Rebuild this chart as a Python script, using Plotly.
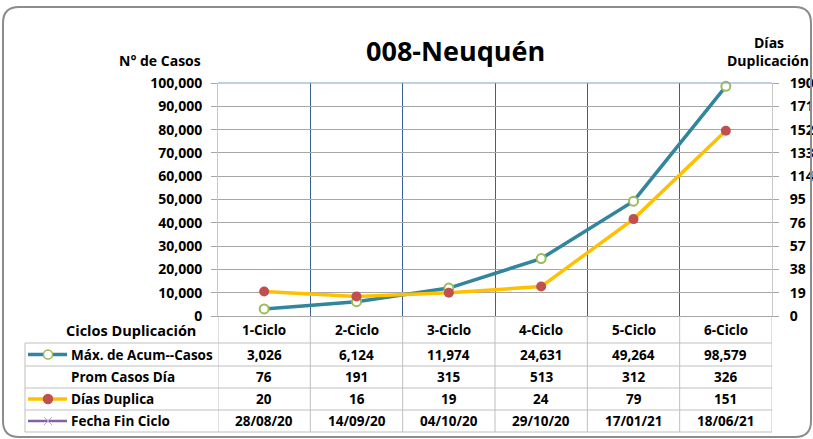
import plotly.graph_objects as go

# ---------------- data ----------------
ciclos = ["1-Ciclo", "2-Ciclo", "3-Ciclo", "4-Ciclo", "5-Ciclo", "6-Ciclo"]
max_acum_casos = [3026, 6124, 11974, 24631, 49264, 98579]
prom_casos_dia = [76, 191, 315, 513, 312, 326]
dias_duplica = [20, 16, 19, 24, 79, 151]
fecha_fin_ciclo = ["28/08/20", "14/09/20", "04/10/20", "29/10/20", "17/01/21", "18/06/21"]
left_ticks = list(range(0, 100001, 10000))
right_ticks = [0, 19, 38, 57, 76, 95, 114, 133, 152, 171, 190]

title = "008-Neuquén"
row_labels = ["Máx. de Acum--Casos", "Prom Casos Día", "Días Duplica", "Fecha Fin Ciclo"]

# ---------------- geometry (pixels) ----------------
W, H = 813, 439
L, R, T, B = 218, 772, 83, 316
PW, PH = R - L, B - T


def px(x):
    return (x - L) / PW


def py(y):
    return (B - y) / PH


FONT = "Open Sans"
TEAL = "#31859C"
GOLD = "#FFC000"
RED = "#C0504D"
GREEN = "#9BBB59"
PURPLE = "#8064A2"
GRID = "#A6A6A6"
BLUE = "#3A5F95"
TBL = "#BFBFBF"

fig = go.Figure()
fig.add_trace(go.Scatter(
    x=ciclos, y=max_acum_casos, mode="lines+markers", name=row_labels[0],
    line=dict(color=TEAL, width=3.5),
    marker=dict(size=9, color="white", line=dict(color=GREEN, width=2)),
    yaxis="y", cliponaxis=False, showlegend=False))
fig.add_trace(go.Scatter(
    x=ciclos, y=dias_duplica, mode="lines+markers", name=row_labels[2],
    line=dict(color=GOLD, width=3.5),
    marker=dict(size=10, color=RED),
    yaxis="y2", cliponaxis=False, showlegend=False))

shapes = []
annotations = []

annotations.append(dict(text=title, x=px(455), y=py(50), xref="paper", yref="paper",
                        showarrow=False, xanchor="center", yanchor="middle",
                        font=dict(family=FONT, size=27, color="black", weight="bold")))
annotations.append(dict(text="N° de Casos", x=px(203), y=py(60), xref="paper", yref="paper",
                        showarrow=False, xanchor="right", yanchor="middle",
                        font=dict(family=FONT, size=14, color="black", weight="bold")))
annotations.append(dict(text="Días", x=px(769), y=py(42), xref="paper", yref="paper",
                        showarrow=False, xanchor="center", yanchor="middle",
                        font=dict(family=FONT, size=14, color="black", weight="bold")))
annotations.append(dict(text="Duplicación", x=px(811), y=py(60), xref="paper", yref="paper",
                        showarrow=False, xanchor="right", yanchor="middle",
                        font=dict(family=FONT, size=14, color="black", weight="bold")))

shapes.append(dict(type="line", xref="paper", yref="paper", x0=0, x1=1, y0=1, y1=1,
                   line=dict(color="#7FA0C8", width=1)))

# ---------------- table ----------------
row_lines = [343, 366, 388, 410, 432]
row_centers = [354.5, 377, 399, 421]
header_y = 330

for yl in row_lines:
    shapes.append(dict(type="line", xref="paper", yref="paper", x0=px(25), x1=px(R),
                       y0=py(yl), y1=py(yl), line=dict(color=TBL, width=1)))
shapes.append(dict(type="line", xref="paper", yref="paper", x0=px(25), x1=px(25),
                   y0=py(343), y1=py(432), line=dict(color=TBL, width=1)))
for i in range(len(ciclos) + 1):
    shapes.append(dict(type="line", xref="x", yref="paper", x0=i - 0.5, x1=i - 0.5,
                       y0=py(B), y1=py(432), line=dict(color=TBL, width=1)))

tfont = dict(family=FONT, size=13.5, color="black", weight="bold")
annotations.append(dict(text="Ciclos Duplicación", x=px(131), y=py(header_y), xref="paper",
                        yref="paper", showarrow=False, xanchor="center", yanchor="middle",
                        font=dict(family=FONT, size=14.5, color="black", weight="bold")))
for c in ciclos:
    annotations.append(dict(text=c, x=c, y=py(header_y), xref="x", yref="paper",
                            showarrow=False, xanchor="center", yanchor="middle", font=tfont))

rows = [
    [f"{v:,}" for v in max_acum_casos],
    [f"{v:,}" for v in prom_casos_dia],
    [f"{v:,}" for v in dias_duplica],
    fecha_fin_ciclo,
]
for r, (lab, vals) in enumerate(zip(row_labels, rows)):
    yc = row_centers[r]
    annotations.append(dict(text=lab, x=px(69), y=py(yc), xref="paper", yref="paper",
                            showarrow=False, xanchor="left", yanchor="middle", font=tfont))
    for c, v in zip(ciclos, vals):
        annotations.append(dict(text=v, x=c, y=py(yc), xref="x", yref="paper",
                                showarrow=False, xanchor="center", yanchor="middle", font=tfont))


def key_line(yc, color):
    shapes.append(dict(type="line", xref="paper", yref="paper", x0=px(28), x1=px(67),
                       y0=py(yc), y1=py(yc), line=dict(color=color, width=3.5)))


def key_circle(yc, fill, edge, r):
    shapes.append(dict(type="circle", xref="paper", yref="paper", xsizemode="pixel",
                       ysizemode="pixel", xanchor=px(48), yanchor=py(yc),
                       x0=-r, x1=r, y0=-r, y1=r, fillcolor=fill,
                       line=dict(color=edge, width=1.5)))


key_line(row_centers[0], TEAL)
key_circle(row_centers[0], "white", GREEN, 4.5)
key_line(row_centers[2], GOLD)
key_circle(row_centers[2], RED, RED, 4.5)
shapes.append(dict(type="line", xref="paper", yref="paper", x0=px(28), x1=px(67),
                   y0=py(row_centers[3]), y1=py(row_centers[3]),
                   line=dict(color=PURPLE, width=2.5)))
for s in (-1, 1):
    shapes.append(dict(type="line", xref="paper", yref="paper", x0=px(44), x1=px(52),
                       y0=py(row_centers[3] - 4 * s), y1=py(row_centers[3] + 4 * s),
                       line=dict(color="#B4A7D6", width=1)))

# rounded outer border
x0b, y0b, x1b, y1b, rad = 3, 7, 811, 437, 16
path = (f"M {px(x0b + rad)} {py(y0b)} L {px(x1b - rad)} {py(y0b)} "
        f"Q {px(x1b)} {py(y0b)} {px(x1b)} {py(y0b + rad)} "
        f"L {px(x1b)} {py(y1b - rad)} Q {px(x1b)} {py(y1b)} {px(x1b - rad)} {py(y1b)} "
        f"L {px(x0b + rad)} {py(y1b)} Q {px(x0b)} {py(y1b)} {px(x0b)} {py(y1b - rad)} "
        f"L {px(x0b)} {py(y0b + rad)} Q {px(x0b)} {py(y0b)} {px(x0b + rad)} {py(y0b)} Z")
shapes.append(dict(type="path", xref="paper", yref="paper", path=path,
                   line=dict(color="#8C8C8C", width=2)))

tick_font = dict(family=FONT, size=14, color="black", weight="bold")
fig.update_layout(
    width=W, height=H, autosize=False,
    margin=dict(l=L, r=W - R, t=T, b=H - B, pad=0, autoexpand=False),
    paper_bgcolor="white", plot_bgcolor="white",
    showlegend=False,
    xaxis=dict(type="category", categoryorder="array", categoryarray=ciclos,
               range=[-0.5, len(ciclos) - 0.5], tickson="boundaries",
               showgrid=True, gridcolor=BLUE, gridwidth=1, automargin=False,
               showticklabels=False, ticks="", showline=True, linecolor=GRID,
               linewidth=1, zeroline=False, fixedrange=True),
    yaxis=dict(range=[0, 100000], tickvals=left_ticks, tickformat=",",
               showgrid=True, gridcolor=GRID, gridwidth=1, zeroline=False,
               showline=True, linecolor="#C8C8C8", linewidth=1, automargin=False,
               ticks="outside", ticklen=6, tickcolor=GRID, tickfont=tick_font,
               ticklabelstandoff=6),
    yaxis2=dict(range=[0, 190], tickvals=right_ticks, overlaying="y", side="right",
                showgrid=False, zeroline=False, showline=True, linecolor="#C8C8C8",
                linewidth=1, ticks="outside", ticklen=6, tickcolor=GRID, automargin=False,
                tickfont=tick_font, ticklabelstandoff=8),
    shapes=shapes, annotations=annotations,
)

post = (
    "document.documentElement.style.overflow='hidden';"
    "document.body.style.overflow='hidden';"
    "document.body.style.margin='0';"
    "document.body.style.padding='0';"
)
fig.write_html("out.html", config={"displayModeBar": False, "responsive": False},
               post_script=post)
